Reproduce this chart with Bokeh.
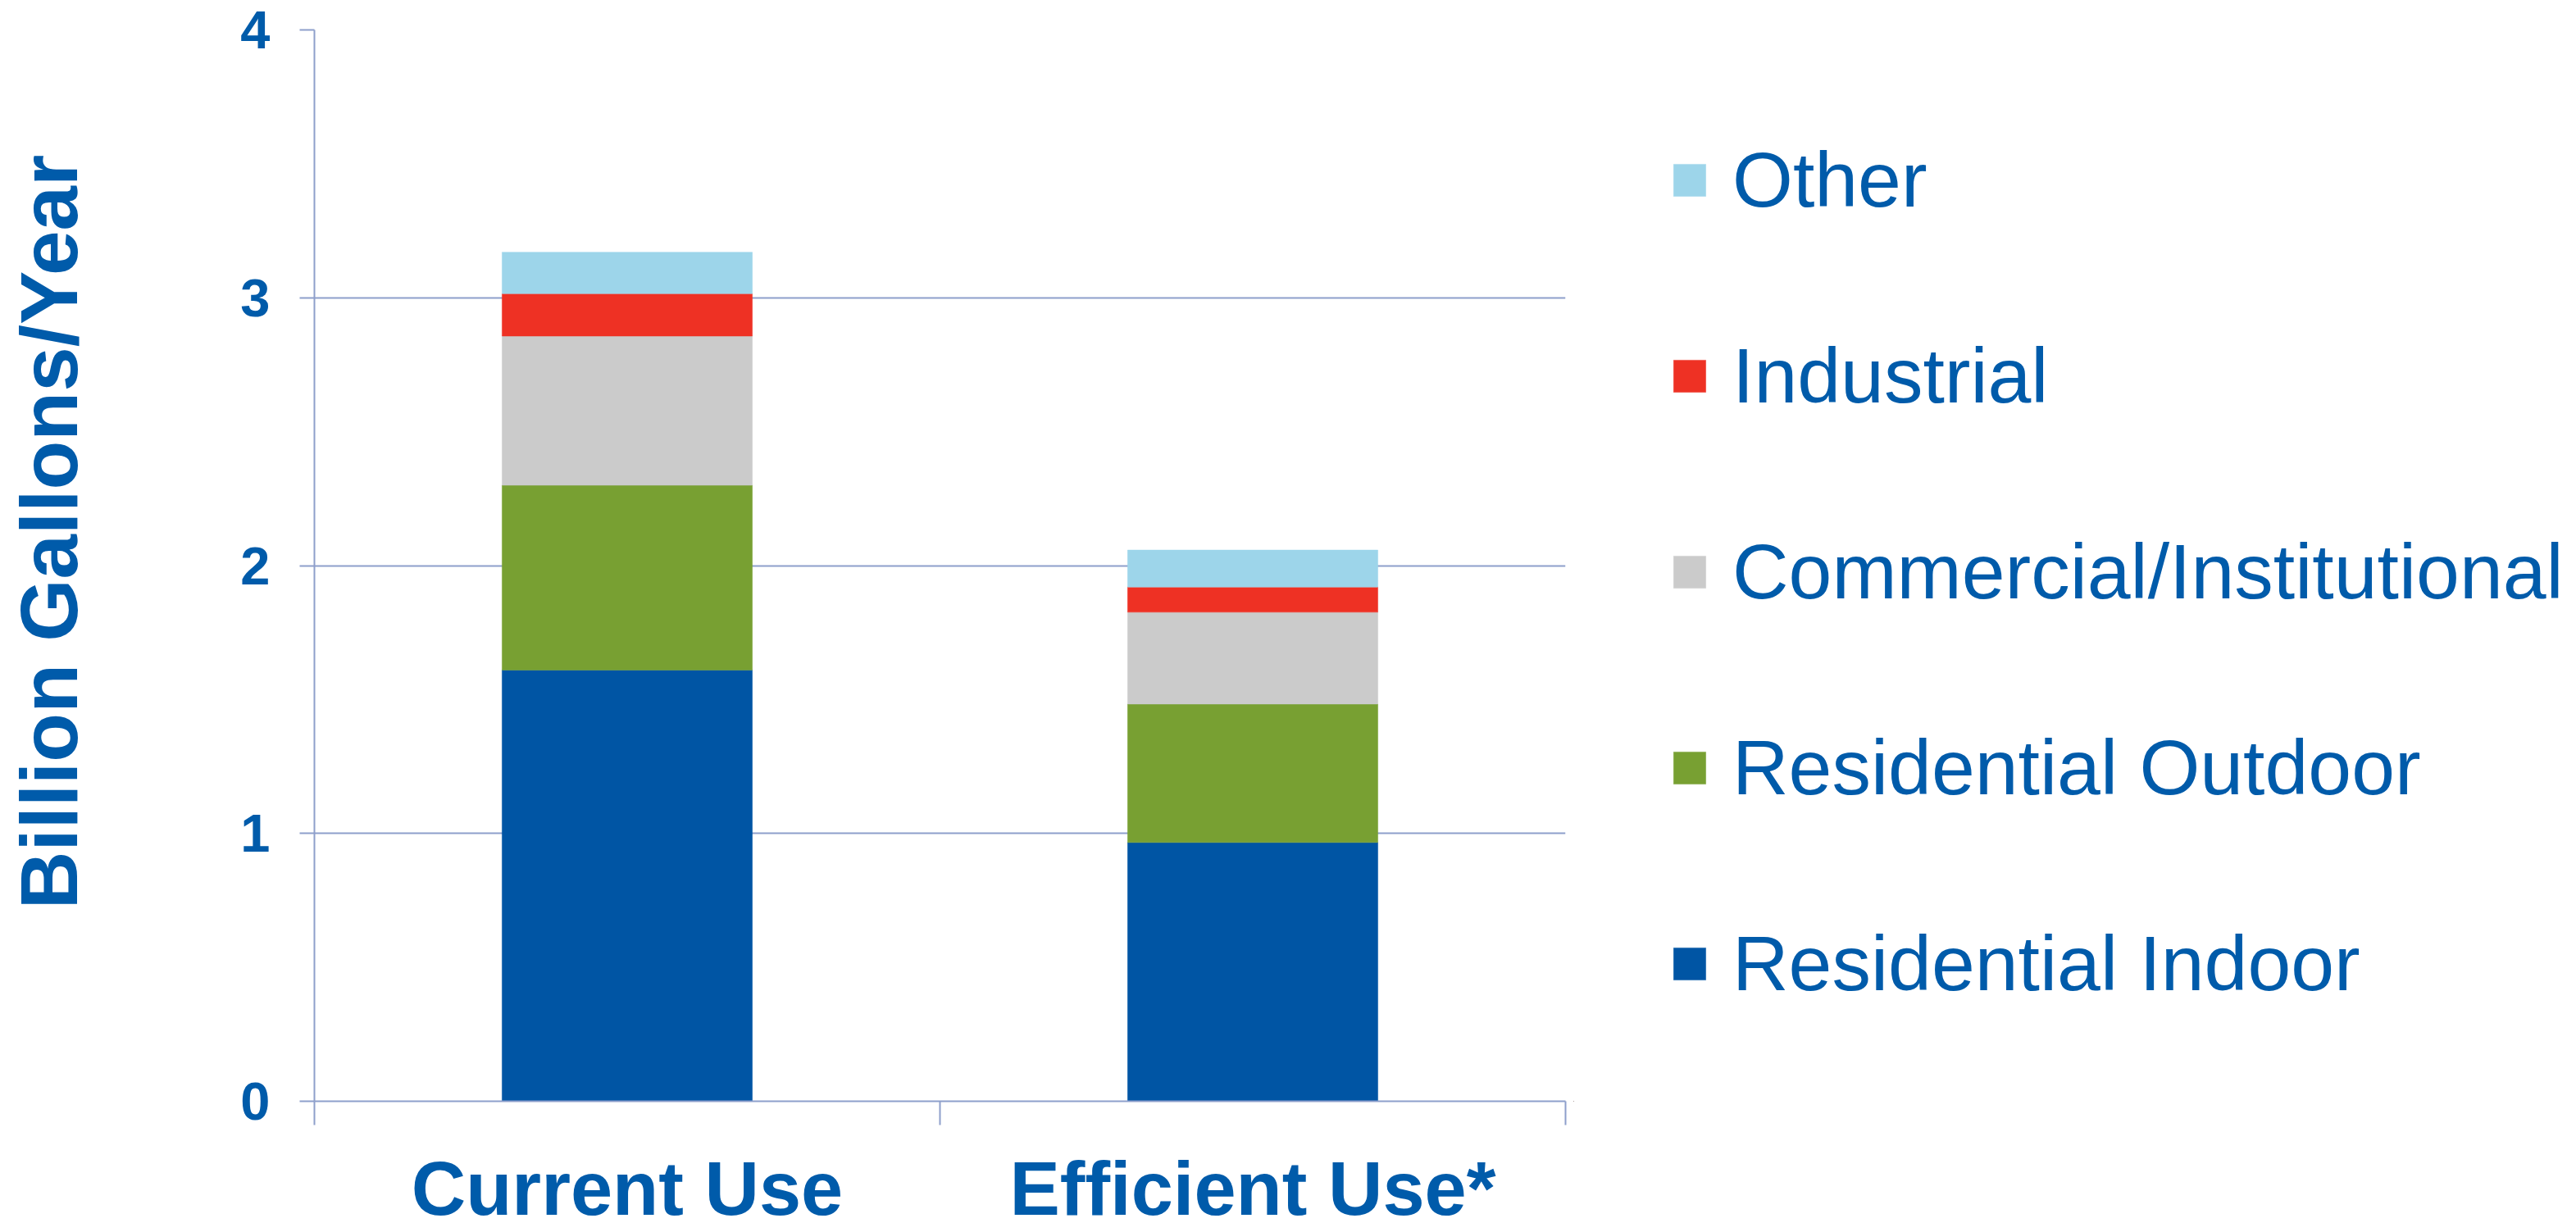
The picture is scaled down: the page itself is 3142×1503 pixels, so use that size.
from bokeh.plotting import figure
from bokeh.models import (ColumnDataSource, Range1d, FixedTicker, Legend, LegendItem)
from bokeh.layouts import row
from bokeh.embed import file_html
from bokeh.resources import INLINE

# ---- data ----
categories = ["Current Use", "Efficient Use*"]
series = ["Residential Indoor", "Residential Outdoor", "Commercial/Institutional", "Industrial", "Other"]
residential_indoor = [1.61, 0.966]
residential_outdoor = [0.69, 0.517]
commercial_institutional = [0.557, 0.343]
industrial = [0.158, 0.094]
other = [0.155, 0.138]
y_ticks = [0, 1, 2, 3, 4]
y_title = "Billion Gallons/Year"

colors = ["#0055A4", "#78A032", "#CBCBCB", "#EE3124", "#9DD5EA"]
TEXT = "#005BAA"
GRID = "#8E9FCB"
FONT = "Liberation Sans"

xs = [i + 0.5 for i in range(len(categories))]
source = ColumnDataSource(dict(
    x=xs,
    **{series[0]: residential_indoor,
       series[1]: residential_outdoor,
       series[2]: commercial_institutional,
       series[3]: industrial,
       series[4]: other}))

W_MAIN = 1919
p = figure(width=W_MAIN, height=1503, output_backend="svg", toolbar_location=None,
           x_range=Range1d(0, len(categories)), y_range=Range1d(0, 4),
           min_border_left=383, min_border_right=10, min_border_top=36, min_border_bottom=160)
p.outline_line_color = None
p.background_fill_color = "white"

renderers = p.vbar_stack(series, x="x", width=0.4, color=colors, line_color=colors,
                         line_width=0.5, source=source)

# grid
p.xgrid.grid_line_color = None
p.ygrid.grid_line_color = GRID
p.ygrid.grid_line_width = 2
p.ygrid.ticker = FixedTicker(ticks=y_ticks)

# y axis
ya = p.yaxis[0]
ya.ticker = FixedTicker(ticks=y_ticks)
ya.axis_line_color = GRID
ya.axis_line_width = 2
ya.major_tick_line_color = GRID
ya.major_tick_line_width = 2
ya.major_tick_out = 18
ya.major_tick_in = 0
ya.minor_tick_line_color = None
ya.major_label_text_font = FONT
ya.major_label_text_font_style = "bold"
ya.major_label_text_font_size = "65px"
ya.major_label_text_color = TEXT
ya.major_label_standoff = 36
# leading no-break spaces nudge the centred title upward, as in the original
ya.axis_label = "\u00a0\u00a0\u00a0" + y_title
ya.axis_label_text_font = FONT
ya.axis_label_text_font_style = "bold"
ya.axis_label_text_font_size = "98px"
ya.axis_label_text_color = TEXT
ya.axis_label_standoff = 175

# x axis
xa = p.xaxis[0]
xa.ticker = FixedTicker(ticks=xs, minor_ticks=list(range(len(categories) + 1)))
xa.major_label_overrides = {x: c for x, c in zip(xs, categories)}
xa.axis_line_color = GRID
xa.axis_line_width = 2
xa.major_tick_line_color = None
xa.major_tick_out = 0
xa.major_tick_in = 0
xa.minor_tick_line_color = GRID
xa.minor_tick_line_width = 2
xa.minor_tick_out = 29
xa.minor_tick_in = 0
xa.major_label_text_font = FONT
xa.major_label_text_font_style = "bold"
xa.major_label_text_font_size = "92px"
xa.major_label_text_color = TEXT
xa.major_label_standoff = 26

# ---- legend panel (separate figure to the right; frames are aligned by the row) ----
p2 = figure(width=3142 - W_MAIN, height=1503, output_backend="svg", toolbar_location=None,
            x_range=Range1d(100, 101), y_range=Range1d(100, 101),
            x_axis_type=None, y_axis_type=None,
            min_border_left=0, min_border_right=0, min_border_top=0, min_border_bottom=0)
p2.outline_line_color = None
p2.xgrid.grid_line_color = None
p2.ygrid.grid_line_color = None
leg_renderers = p2.vbar_stack(series, x="x", width=0.4, color=colors, line_color=colors,
                              line_width=0.5, source=source)

items = [LegendItem(label=s, renderers=[r]) for s, r in zip(series, leg_renderers)][::-1]
legend = Legend(items=items, location=(117, 108))
legend.padding = 0
legend.margin = 0
legend.border_line_color = None
legend.background_fill_alpha = 0
legend.glyph_width = 49
legend.glyph_height = 49
legend.label_standoff = 28
legend.spacing = 119
legend.label_text_font = FONT
legend.label_text_font_size = "95px"
legend.label_text_color = TEXT
legend.label_height = 120
p2.add_layout(legend, "center")

layout = row(p, p2)
open("out.html", "w").write(file_html(layout, INLINE))
